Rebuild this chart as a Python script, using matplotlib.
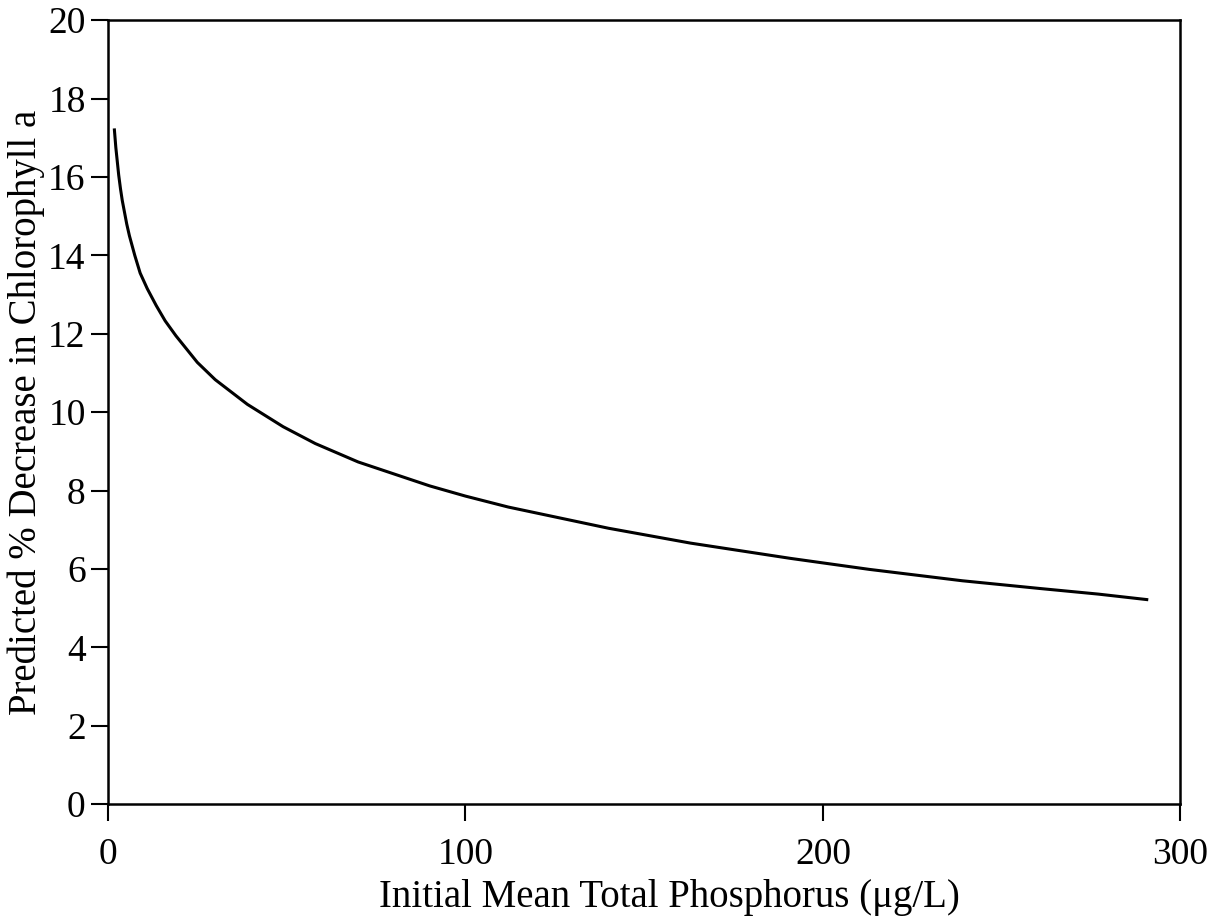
import numpy as np
import matplotlib.pyplot as plt

plt.rcParams["font.family"] = ["Liberation Serif", "DejaVu Serif"]

# curve
phosphorus = [1.8, 2.2, 2.6, 3.0, 3.5, 4.0, 5.25, 6.0, 7.5, 9, 11, 13.5, 16,
              19, 25, 30, 39, 49, 58, 70, 90, 100, 112, 140, 163, 191, 213,
              239, 261, 277, 290.6]
chl_decrease = [17.2, 16.75, 16.4, 16.05, 15.7, 15.4, 14.8, 14.5, 14.0, 13.55,
                13.15, 12.72, 12.33, 11.95, 11.27, 10.83, 10.2, 9.63, 9.2, 8.73,
                8.12, 7.86, 7.58, 7.04, 6.66, 6.27, 5.99, 5.70, 5.50, 5.36, 5.22]

x_ticks = [0, 100, 200, 300]
y_ticks = list(range(0, 21, 2))

fig = plt.figure(figsize=(12.2, 9.17), dpi=100)
ax = fig.add_axes([0.0885, 0.123, 0.879, 0.855])

ax.plot(phosphorus, chl_decrease, color="black", linewidth=2.2,
        solid_joinstyle="round")

ax.set_xlim(0, 300)
ax.set_ylim(0, 20)
ax.set_xticks(x_ticks)
ax.set_yticks(y_ticks)

for sp in ax.spines.values():
    sp.set_linewidth(1.8)

ax.tick_params(axis="both", direction="out", length=12, width=1.5,
               labelsize=27, colors="black")
ax.tick_params(axis="x", pad=12)
ax.tick_params(axis="y", pad=4)

ax.set_xlabel("Initial Mean Total Phosphorus (\u03bcg/L)", fontsize=28)
ax.set_ylabel("Predicted % Decrease in Chlorophyll a", fontsize=28, labelpad=2)
# the x title sits a little right of centre in the original
ax.xaxis.set_label_coords(0.524, -0.095)

fig.savefig("out.png", dpi=100)
